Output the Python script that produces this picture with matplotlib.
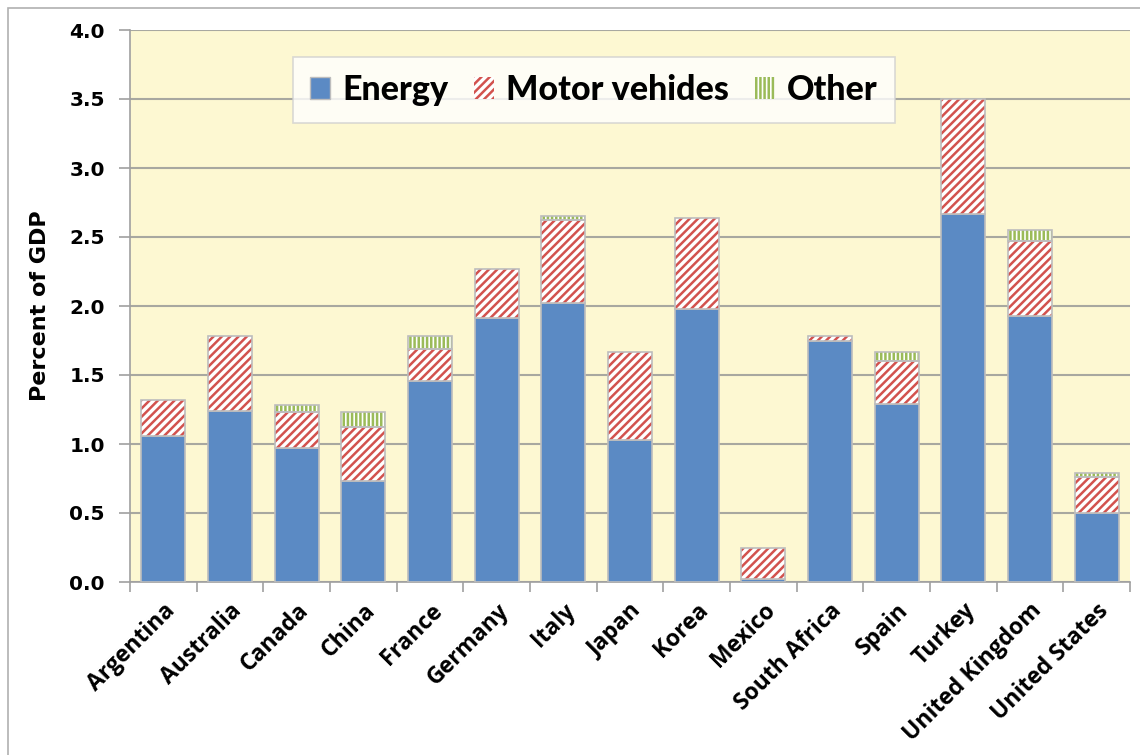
import matplotlib
matplotlib.use("Agg")
import matplotlib.pyplot as plt
import numpy as np
from matplotlib.patches import Rectangle

countries = ["Argentina", "Australia", "Canada", "China", "France", "Germany",
             "Italy", "Japan", "Korea", "Mexico", "South Africa", "Spain",
             "Turkey", "United Kingdom", "United States"]
energy = [1.06, 1.24, 0.97, 0.73, 1.46, 1.91, 2.02, 1.03, 1.98, 0.02, 1.75, 1.29, 2.67, 1.93, 0.50]
motor_vehicles = [0.26, 0.54, 0.26, 0.39, 0.23, 0.36, 0.60, 0.64, 0.66, 0.23, 0.03, 0.31, 0.83, 0.54, 0.26]
other = [0.00, 0.00, 0.05, 0.11, 0.09, 0.00, 0.03, 0.00, 0.00, 0.00, 0.00, 0.07, 0.00, 0.08, 0.03]
y_ticks = [0.0, 0.5, 1.0, 1.5, 2.0, 2.5, 3.0, 3.5, 4.0]

BLUE = "#5B8AC4"
RED = "#D2524E"
GREEN = "#9BBB59"
EDGE = "#BDBDBD"
BG = "#FDF8D2"

plt.rcParams["hatch.linewidth"] = 1.8

fig = plt.figure(figsize=(11.4, 7.55), dpi=100)
ax = fig.add_axes([130 / 1140, 1 - 582 / 755, 1000 / 1140, 552 / 755])
ax.set_facecolor(BG)

x = np.arange(len(countries))
w = 0.66
e = np.array(energy)
m = np.array(motor_vehicles)
o = np.array(other)

ax.bar(x, e, w, color=BLUE, edgecolor=EDGE, linewidth=1.2, zorder=3)
# hatched segments: hatch lines take the edge colour, outline drawn separately
ax.bar(x, m, w, bottom=e, color="white", edgecolor=RED, hatch="////", linewidth=0, zorder=3)
ax.bar(x, m, w, bottom=e, fill=False, edgecolor=EDGE, linewidth=1.2, zorder=4)
mask = o > 0
ax.bar(x[mask], o[mask], w, bottom=(e + m)[mask], color="white", edgecolor=GREEN,
       hatch="||||", linewidth=0, zorder=3)
ax.bar(x[mask], o[mask], w, bottom=(e + m)[mask], fill=False, edgecolor=EDGE, linewidth=1.2, zorder=4)

ax.set_xlim(-0.5, len(countries) - 0.5)
ax.set_ylim(0, 4.0)
ax.set_yticks(y_ticks)
ax.set_yticklabels([f"{v:.1f}" for v in y_ticks], fontsize=14.5, fontweight="bold",
                   family="DejaVu Sans")
ax.yaxis.grid(True, color="#A8A8A0", linewidth=1.5, zorder=0)
ax.set_axisbelow(True)

ax.set_xticks(x)
ax.set_xticklabels(countries, rotation=45, ha="right", rotation_mode="anchor",
                   fontsize=16.5, fontweight="bold", family="Open Sans")
ax.tick_params(axis="x", length=0, pad=12)
ax.set_xticks(np.arange(len(countries) + 1) - 0.5, minor=True)
ax.tick_params(axis="x", which="minor", length=7, color="#A0A0A0", width=1.2)
ax.tick_params(axis="y", length=8, color="#A0A0A0", width=1.2, pad=10)

for side in ["top", "right"]:
    ax.spines[side].set_visible(False)
for side in ["left", "bottom"]:
    ax.spines[side].set_color("#A0A0A0")
    ax.spines[side].set_linewidth(1.2)

ax.set_ylabel("Percent of GDP", fontsize=16, fontweight="bold", family="DejaVu Sans", labelpad=14)

handles = [
    Rectangle((0, 0), 1, 1, facecolor=BLUE, edgecolor=EDGE),
    Rectangle((0, 0), 1, 1, facecolor="white", edgecolor=RED, hatch="////", linewidth=0),
    Rectangle((0, 0), 1, 1, facecolor="white", edgecolor=GREEN, hatch="||||", linewidth=0),
]
leg = fig.legend(handles, ["Energy", "Motor vehides", "Other"], ncol=3,
                 loc="upper left", bbox_to_anchor=(293 / 1140, 1 - 57 / 755),
                 prop={"family": "Lato", "weight": "black", "size": 24.5},
                 frameon=True, fancybox=False, edgecolor="#D0D0D0",
                 handlelength=0.6, handleheight=0.6, handletextpad=0.35,
                 columnspacing=0.75, borderpad=0.5, borderaxespad=0)
leg.get_frame().set_linewidth(1.2)

# outer frame around the figure
fig.add_artist(Rectangle((8 / 1140, -0.02), 1.05, 1 - 8 / 755 + 0.02,
                         transform=fig.transFigure, fill=False,
                         edgecolor="#B0B0B0", linewidth=1.2))

fig.savefig("out.png", dpi=100, facecolor="white")
